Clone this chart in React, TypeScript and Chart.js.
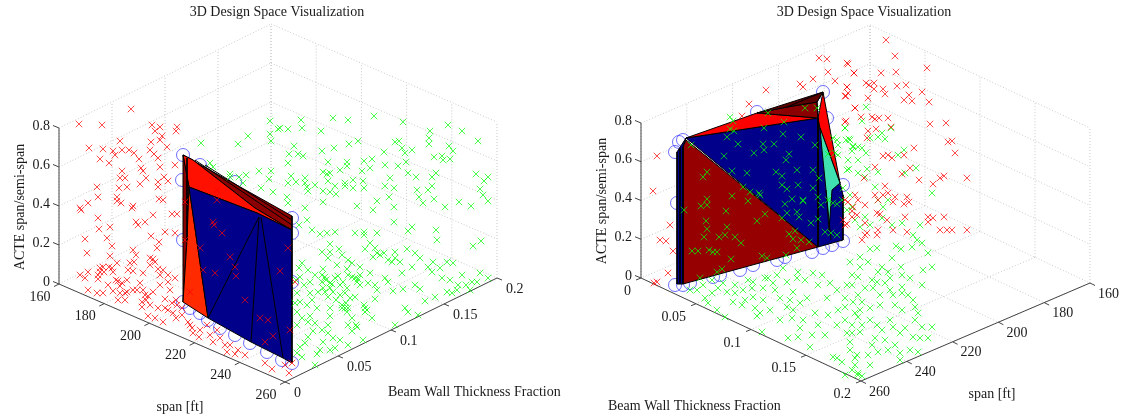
import React, { useEffect, useRef } from "react";
import { Chart, registerables } from "chart.js";

Chart.register(...registerables);

type Pair = [number, number];

const titleText = "3D Design Space Visualization";
const spanLabel = "span [ft]";
const thicknessLabel = "Beam Wall Thickness Fraction";
const acteLabel = "ACTE span/semi-span";
const spanTicks = [160, 180, 200, 220, 240, 260];
const thicknessTicks = [0, 0.05, 0.1, 0.15, 0.2];
const acteTicks = [0, 0.2, 0.4, 0.6, 0.8];

// Scatter samples in projected plot units.
const leftRed: Pair[] = [
[131,109],[79,124],[102,125],[152,125],[160,127],[177,127],[176,131],[155,131],[162,136],[120,141],[151,142],[160,140],[89,148],[103,149],[113,151],[115,155],[122,150],[129,150],[134,153],[150,150],[167,147],[154,154],[158,158],[100,159],[109,163],[139,159],[160,167],[175,165],[141,168],[143,171],[122,171],[120,178],[125,178],[146,178],[164,177],[168,181],[158,182],[140,184],[158,187],[97,187],[127,187],[119,188],[98,197],[117,197],[117,201],[121,203],[88,203],[159,199],[163,200],[133,206],[132,208],[80,208],[185,202],[217,200],[217,190],
[81,210],[98,218],[110,227],[99,229],[136,222],[145,222],[138,225],[153,215],[172,214],[177,214],[165,232],[175,233],[151,236],[85,239],[107,238],[112,246],[159,242],[157,248],[87,253],[133,250],[136,255],[110,256],[153,259],[117,263],[130,263],[103,267],[109,267],[150,265],[158,269],[100,272],[113,272],[133,271],[143,273],[163,270],[168,275],[80,275],[88,272],[85,278],[98,279],[127,280],[118,281],[175,278],[137,290],[113,291],[88,290],[97,293],[103,293],[120,293],[125,293],[153,292],[145,295],[118,300],[125,300],[142,302],[165,299],[172,303],[177,305],[142,307],[148,316],[155,318],[173,313],[163,322],[188,322],[190,325],[193,333],[199,337],[207,325],[217,330],[213,342],[230,345],[227,352],[235,354],[245,355],[265,363],[272,369],
[213,222],[214,225],[222,233],[200,248],[203,270],[215,273],[230,257],[235,267],[236,276],[245,300],[260,318],[268,320],[265,342],[273,336],[190,292],[185,240],[288,248],[280,271],[295,282],[290,330],[292,363],[289,373],[285,365],
[100,268],[104,272],[98,275],[112,268],[116,280],[122,283],[108,285],[120,286],[127,292],[146,300],[150,305],[158,308],[168,310],[176,318],[182,315],[192,328],[200,330],[210,335],[220,338],[225,345],[238,350],[143,290],[148,296],[160,285],[168,282],[170,290],[176,300],[182,308],[165,308],[140,283],[133,290],[155,262],[150,258],[160,275],[134,262],[128,270]
];
const leftGreen: Pair[] = [
[270,121],[270,134],[271,141],[278,129],[248,136],[238,144],[201,143],[210,163],[213,167],[230,174],[239,177],[246,175],[259,171],[271,171],[269,179],[243,183],[261,188],[273,192],[230,177],
[301,120],[302,128],[333,118],[348,120],[374,116],[403,122],[448,125],[462,131],[430,131],[321,131],[288,129],[280,128],[429,138],[478,141],[429,144],[294,146],[358,141],[349,144],[334,148],[322,151],[395,142],[399,141],[402,148],[412,150],[405,153],[384,152],[449,146],[453,151],[289,154],[298,154],[303,156],[434,157],[442,156],[443,160],[450,159],[328,162],[347,162],[347,166],[364,161],[372,159],[406,162],[288,163],[385,165],[398,166],[370,168],[362,171],[340,170],[323,172],[330,173],[327,174],[408,173],[291,176],[305,178],[390,178],[416,177],[432,177],[436,173],[476,174],[488,177],[484,181],[288,183],[296,182],[305,183],[307,187],[315,185],[328,181],[345,183],[353,180],[363,181],[335,186],[345,186],[353,188],[364,188],[385,186],[394,188],[432,186],[417,190],[428,190],[480,189],[308,191],[323,191],[330,192],[336,194],[483,195],[389,197],[419,197],[434,199],[287,197],[488,201],[377,201],[423,203],[323,202],[459,202],[288,203],[471,206],[445,207],[357,206],[394,207],[305,208],[373,210],
[307,220],[299,225],[312,230],[320,234],[327,233],[335,232],[355,233],[364,232],[364,235],[377,233],[394,222],[412,227],[408,231],[436,230],[437,240],[473,246],[481,241],[330,244],[370,243],[322,252],[330,252],[339,249],[365,249],[375,248],[377,253],[384,253],[395,252],[407,249],[415,253],[342,255],[348,260],[328,258],[373,257],[395,258],[392,262],[433,262],[447,262],[453,263],[302,263],[337,265],[352,263],[360,267],[428,267],[412,267],[308,270],[323,269],[347,269],[370,273],[402,273],[432,272],[462,275],[480,273],[325,277],[335,278],[355,278],[348,275],[385,278],[442,278],[472,282],[488,278],[322,282],[330,283],[340,285],[357,282],[375,285],[388,282],[415,285],[450,280],[458,285],[477,282],[323,288],[333,292],[347,288],[377,290],[393,291],[403,289],[420,289],[447,292],[457,290],[297,293],[310,293],[328,297],[355,297],[435,297],[452,293],[375,299],[425,301],[300,302],[295,303],[307,305],[330,308],[345,308],[365,308],[317,308],[405,308],[408,312],[418,315],[347,312],[297,312],[310,316],[330,316],[365,312],[342,308],[372,318],[315,323],[328,325],[357,327],[348,325],[395,325],[297,325],[352,331],[313,331],[363,340],[328,333],[308,337],[305,343],[323,342],[348,345],[300,347],[320,350],[330,350],[317,354],[335,348],[297,353],[302,357],[315,365],
[322,275],[326,280],[332,284],[338,276],[343,282],[352,277],[358,279],[360,285],[330,288],[345,293],[350,298],[336,300],[340,295],[325,292],[342,305],[346,303],[348,308],[364,305],[367,310],[312,300],[318,292],[304,285],[300,277],[310,282],[315,275],[299,268],[296,280],[302,318],[308,322],[322,330],[333,338],[340,340],[356,325],[352,318],[360,275],[368,283],[380,255],[388,260],[400,262],[420,258],[440,268],[466,285],[470,290]
];
const leftDesign: Pair[] = [
[183,155],[200,165],[235,182],[182,180],[183,302],[183,240],[208,320],[220,328],[235,335],[250,343],[267,352],[282,360],[200,313],[190,308],[292,218],[292,233],[292,282],[292,363]
];
const rightRed: Pair[] = [
[886,40],[895,56],[927,68],[847,63],[854,73],[881,73],[896,72],[866,83],[869,85],[874,83],[847,87],[874,89],[883,89],[897,86],[906,85],[885,94],[922,92],[909,95],[848,93],[845,96],[868,98],[904,100],[912,101],[929,102],[855,108],[861,117],[872,117],[875,119],[879,118],[888,118],[930,124],[946,123],[845,122],[868,131],[876,129],[891,127],[867,138],[948,142],[952,141],[955,153],[914,148],[883,156],[888,155],[892,158],[904,155],[875,167],[910,168],[902,174],[919,180],[940,178],[944,176],[967,178],[933,184],[864,178],[885,186],[875,195],[888,193],[883,195],[878,200],[895,197],[907,197],[893,202],[909,202],[904,204],[855,195],[845,200],[865,205],[853,207],[848,202],
[928,217],[933,218],[944,217],[928,222],[905,217],[940,230],[947,230],[952,230],[967,230],[893,230],[907,232],[877,213],[880,214],[865,223],[878,230],[867,233],[865,235],[862,240],[877,235],[852,217],[845,225],[887,220],
[819,58],[827,59],[848,64],[854,73],[828,72],[800,84],[813,79],[803,87],[835,81],[766,90],[847,87],[846,96],[749,104],[855,108],[742,116],[846,121],[657,156],[653,191],[858,200],
[670,225],[660,240],[666,241],[673,251],[668,273],[657,282],[654,283],[843,220],[847,224],[857,215],[852,211]
];
const rightGreen: Pair[] = [
[730,117],[733,121],[768,113],[784,122],[730,129],[734,131],[727,137],[764,128],[783,134],[801,137],[738,144],[763,144],[774,144],[764,150],[754,153],[724,156],[789,154],[786,160],[707,172],[703,177],[732,171],[747,173],[776,172],[782,176],[797,170],[813,170],[815,145],[828,154],[798,185],[782,185],[787,189],[743,187],[750,192],[759,193],[813,188],[819,178],[805,108],[817,108],[691,145],[833,138],[845,128],[846,140],[835,153],[838,145],
[707,199],[701,206],[707,205],[684,210],[732,196],[726,211],[748,201],[760,195],[706,221],[707,229],[727,227],[725,235],[719,237],[704,237],[735,237],[741,243],[692,251],[698,251],[709,250],[713,252],[717,252],[731,259],[762,256],[767,258],[722,269],[717,272],[765,214],[757,221],[782,218],[787,213],[785,204],[792,199],[803,201],[797,212],[799,217],[811,223],[818,219],[789,234],[795,231],[793,239],[801,240],[809,242],[797,248],[786,255],[825,232],[831,233],[837,235],[821,205],[818,197],[833,203],[837,204],[847,210],
[697,290],[705,298],[708,303],[718,288],[723,283],[727,292],[735,293],[733,302],[743,290],[752,288],[753,297],[763,288],[763,300],[760,313],[757,316],[742,305],[717,310],[725,317],[762,332],[777,275],[783,268],[798,272],[797,278],[813,273],[787,282],[818,285],[837,290],[847,285],[793,292],[780,298],[807,298],[827,298],[845,298],[787,307],[800,303],[815,313],[828,315],[855,313],[792,318],[803,320],[818,325],[837,325],[788,338],[798,337],[810,347],[833,357],[842,362],[857,355],[837,358],[858,373],[847,333],[852,325],[773,283],[793,310],[753,282],[703,285],[712,280],
[855,220],[865,217],[882,218],[870,225],[860,227],[892,225],[902,223],[920,225],[913,235],[917,240],[922,243],[896,246],[901,249],[912,247],[870,249],[860,257],[877,248],[928,253],[892,258],[901,267],[868,262],[860,267],[850,262],[923,270],[932,267],[882,267],[878,272],[888,272],[902,275],[910,278],[890,278],[885,283],[877,282],[865,288],[873,288],[902,287],[922,285],[858,277],[852,285],[893,295],[902,293],[853,302],[862,302],[880,305],[913,300],[915,307],[902,310],[918,313],[845,307],[870,308],[858,317],[877,325],[862,325],[890,320],[915,320],[893,327],[922,327],[932,327],[852,333],[875,338],[900,333],[913,337],[928,338],[920,338],[910,350],[918,352],[888,350],[900,353],[868,355],[855,358],[900,360],[852,370],[858,375],[870,365],[862,376],[850,342],[860,332],
[866,107],[862,121],[845,128],[891,128],[882,133],[878,137],[885,139],[870,138],[849,139],[853,146],[852,151],[862,148],[866,153],[904,150],[898,155],[867,169],[849,169],[878,172],[905,173],[916,168],[932,193],[875,187],[878,200],[888,200],[865,177],[883,207],[852,207],
[837,140],[850,140],[853,147],[858,147],[848,160],[858,160],[847,170],[838,155],[858,173],[843,188],[850,195],[842,200],[828,200],[803,200],
[700,278],[690,290],[712,293],[748,280],[768,278],[775,290],[790,300],[805,280],[822,275],[830,283],[852,275],[858,295],[872,280],[880,295],[890,290],[895,305],[908,295],[860,310],[870,320],[882,330],[845,320],[838,310],[825,335],[812,335],[800,328],[780,320],[770,310],[765,278],[745,300],[735,285],[755,308],[872,345],[885,340],[895,345],[905,328],[878,352],[850,350],[845,375],[855,365]
];
const rightDesign: Pair[] = [
[823,92],[757,112],[827,118],[819,118],[683,140],[679,142],[675,152],[843,185],[830,182],[808,105],[677,203],[675,285],[683,285],[690,283],[720,275],[713,277],[740,270],[753,265],[777,260],[812,252],[823,248],[832,245],[843,241],[785,257]
];

// Hull facets
const leftDarkFacet: Pair[] = [[183,155],[292,216],[292,230],[285,226],[255,208],[193,160]];
const leftRedFacet: Pair[] = [[183,155],[193,160],[255,208],[285,226],[292,230],[257,213],[189,187]];
const leftStripFacet: Pair[] = [[183,155],[189,187],[187,240],[183,302]];
const leftOrangeFacet: Pair[] = [[189,187],[208,318],[183,302],[187,240]];
const leftBlueFacet: Pair[] = [[189,187],[257,213],[292,230],[292,363],[283,358],[251,342],[208,318]];
const leftEdges: Pair[][] = [
  [[259,217],[208,318]],[[259,217],[251,342]],[[261,217],[283,358]],
  [[195,160],[292,225]],[[205,165],[292,220]],[[187,158],[187,240]],
];
const rightStripFacet: Pair[] = [[686,138],[677,152],[677,284],[683,284],[683,147]];
const rightLowerFacet: Pair[] = [[686,140],[818,247],[683,284],[683,147]];
const rightBlueFacet: Pair[] = [[686,138],[818,118],[818,247]];
const rightSideFacet: Pair[] = [[818,118],[820,128],[840,183],[843,195],[843,240],[818,247]];
const rightTopRedFacet: Pair[] = [[686,138],[757,113],[818,118]];
const rightTopFacet: Pair[] = [[757,113],[787,107],[817,102],[818,118]];
const rightCapFacet: Pair[] = [[757,113],[823,92],[817,102],[787,107]];
const rightWedgeFacet: Pair[] = [[823,92],[840,183],[820,128],[818,118]];
const rightCyanFacet: Pair[] = [[820,128],[840,183],[832,190],[829,230],[826,190],[822,150]];
const rightEdges: Pair[][] = [
  [[818,118],[818,247]],[[826,190],[831,240]],[[823,92],[817,102]],[[817,102],[818,118]],
  [[680,148],[680,284]],[[683,147],[683,284]],[[787,107],[823,92]],
];

interface Panel { a: Pair; u: Pair; v: Pair; h: number; spanAlongU: boolean }
const panelLeft: Panel = { a: [59, 284], u: [226, 98], v: [212, -104], h: 156, spanAlongU: true };
const panelRight: Panel = { a: [641, 278], u: [220, 103], v: [229, -98], h: 155, spanAlongU: false };

const project = (p: Panel, span: number, th: number, acte: number) => {
  const sf = (span - 160) / 100;
  const tf = th / 0.2;
  const uf = p.spanAlongU ? sf : tf;
  const vf = p.spanAlongU ? tf : 1 - sf;
  return {
    x: p.a[0] + uf * p.u[0] + vf * p.v[0],
    y: p.a[1] + uf * p.u[1] + vf * p.v[1] - (acte / 0.8) * p.h,
  };
};
const GAP = { x: NaN, y: NaN };
const sMin = spanTicks[0], sMax = spanTicks[spanTicks.length - 1];
const tMin = thicknessTicks[0], tMax = thicknessTicks[thicknessTicks.length - 1];
const zMin = acteTicks[0], zMax = acteTicks[acteTicks.length - 1];

function gridPath(p: Panel) {
  const out: { x: number; y: number }[] = [];
  const seg = (a: any, b: any) => out.push(a, b, GAP);
  const wallT = p.spanAlongU ? tMax : tMin;
  const wallA = p.spanAlongU ? [sMin, tMin] : [sMax, tMin];
  const wallB = p.spanAlongU ? [sMin, tMax] : [sMin, tMin];
  const wallC = p.spanAlongU ? [sMax, tMax] : [sMin, tMax];
  for (const s of spanTicks) {
    seg(project(p, s, tMin, 0), project(p, s, tMax, 0));
    seg(project(p, s, wallT, 0), project(p, s, wallT, zMax));
  }
  for (const t of thicknessTicks) {
    seg(project(p, sMin, t, 0), project(p, sMax, t, 0));
    seg(project(p, sMin, t, 0), project(p, sMin, t, zMax));
  }
  for (const z of acteTicks) {
    if (z === 0) continue;
    seg(project(p, wallA[0], wallA[1], z), project(p, wallB[0], wallB[1], z));
    seg(project(p, wallB[0], wallB[1], z), project(p, wallC[0], wallC[1], z));
  }
  return out;
}
function axesPath(p: Panel) {
  const out: { x: number; y: number }[] = [];
  const seg = (a: any, b: any) => out.push(a, b, GAP);
  const off = (q: any, dx: number, dy: number) => ({ x: q.x + dx, y: q.y + dy });
  if (p.spanAlongU) {
    seg(project(p, sMin, tMin, zMin), project(p, sMin, tMin, zMax));
    seg(project(p, sMin, tMin, 0), project(p, sMax, tMin, 0));
    seg(project(p, sMax, tMin, 0), project(p, sMax, tMax, 0));
    for (const z of acteTicks) { const q = project(p, sMin, tMin, z); seg(q, off(q, -6, -2.5)); }
    for (const s of spanTicks) { const q = project(p, s, tMin, 0); seg(q, off(q, -5, 2.5)); }
    for (const t of thicknessTicks) { const q = project(p, sMax, t, 0); seg(q, off(q, 5, 2)); }
  } else {
    seg(project(p, sMax, tMin, zMin), project(p, sMax, tMin, zMax));
    seg(project(p, sMax, tMin, 0), project(p, sMax, tMax, 0));
    seg(project(p, sMax, tMax, 0), project(p, sMin, tMax, 0));
    for (const z of acteTicks) { const q = project(p, sMax, tMin, z); seg(q, off(q, -6, -2.5)); }
    for (const t of thicknessTicks) { const q = project(p, sMax, t, 0); seg(q, off(q, -5, 2)); }
    for (const s of spanTicks) { const q = project(p, s, tMax, 0); seg(q, off(q, 5, 2.5)); }
  }
  return out;
}

const toPts = (a: Pair[]) => a.map(([x, y]) => ({ x, y }));
const closed = (a: Pair[]) => toPts([...a, a[0]]);
const edgesPts = (e: Pair[][]) => e.flatMap((s) => [...toPts(s), GAP]);

const App = () => {
  const ref = useRef<HTMLCanvasElement>(null);
  useEffect(() => {
    document.body.style.margin = "0";
    const facet = (data: Pair[], color: string, order: number) => ({
      data: closed(data), showLine: true, fill: "shape" as const, backgroundColor: color,
      borderColor: "#000000", borderWidth: 1, pointRadius: 0, order,
    });
    const path = (data: any[], color: string, width: number, order: number, dash: number[] = []) => ({
      data, showLine: true, fill: false, borderColor: color, borderWidth: width, borderDash: dash,
      pointRadius: 0, spanGaps: false, order,
    });
    const marks = (data: Pair[], color: string, order: number) => ({
      data: toPts(data), showLine: false, pointStyle: "crossRot" as const, pointRadius: 4.6,
      pointBorderColor: color, pointBorderWidth: 0.7, pointBackgroundColor: color, order,
    });
    const rings = (data: Pair[], order: number) => ({
      data: toPts(data), showLine: false, pointStyle: "circle" as const, pointRadius: 6.5,
      pointBorderColor: "rgba(40,40,255,0.85)", pointBorderWidth: 0.8, pointBackgroundColor: "rgba(0,0,0,0)", order,
    });

    const labels = {
      id: "labels",
      afterDraw(c: any) {
        const g = c.ctx as CanvasRenderingContext2D;
        g.save();
        g.fillStyle = "#1a1a1a";
        g.font = "14px 'Liberation Serif'";
        g.textBaseline = "middle";
        const t = (s: string, x: number, y: number, al: CanvasTextAlign) => {
          g.textAlign = al; g.fillText(s, x, y);
        };
        t(titleText, 277, 12, "center");
        t(titleText, 864, 12, "center");
        for (const z of acteTicks) {
          const a = project(panelLeft, sMin, tMin, z);
          t(String(z), a.x - 9, a.y - 2, "right");
          const b = project(panelRight, sMax, tMin, z);
          t(String(z), b.x - 9, b.y - 2, "right");
        }
        for (const s of spanTicks) {
          const a = project(panelLeft, s, tMin, 0);
          t(String(s), a.x - 19, a.y + 13, "center");
          const b = project(panelRight, s, tMax, 0);
          t(String(s), b.x + 8, b.y + 11, "left");
        }
        for (const th of thicknessTicks) {
          const a = project(panelLeft, sMax, th, 0);
          t(String(th), a.x + 9, a.y + 11, "left");
          const b = project(panelRight, sMax, th, 0);
          t(String(th), b.x - 10, b.y + 13.5, "right");
        }
        t(spanLabel, 180, 407, "center");
        t(thicknessLabel, 388, 392, "left");
        t(spanLabel, 992, 394, "center");
        t(thicknessLabel, 608, 406, "left");
        for (const [x, y] of [[20, 207], [602, 201]]) {
          g.save(); g.translate(x, y); g.rotate(-Math.PI / 2);
          t(acteLabel, 0, 0, "center");
          g.restore();
        }
        g.restore();
      },
    };

    const chart = new Chart(ref.current!, {
      type: "scatter",
      data: {
        datasets: [
          path(gridPath(panelLeft), "#c9c9c9", 1, 100, [1, 2]),
          path(gridPath(panelRight), "#c9c9c9", 1, 100, [1, 2]),
          path(axesPath(panelLeft), "#444444", 1, 90),
          path(axesPath(panelRight), "#444444", 1, 90),
          rings(leftDesign, 80),
          rings(rightDesign, 80),
          facet(leftDarkFacet, "#8b0000", 70),
          facet(leftRedFacet, "#ff1000", 69),
          facet(leftStripFacet, "#8b0000", 68),
          facet(leftOrangeFacet, "#ff2a00", 67),
          facet(leftBlueFacet, "#00008b", 66),
          path(edgesPts(leftEdges), "#000000", 1, 65),
          facet(rightStripFacet, "#00008b", 70),
          facet(rightSideFacet, "#00008b", 69),
          facet(rightLowerFacet, "#960000", 68),
          facet(rightBlueFacet, "#00008b", 67),
          facet(rightTopRedFacet, "#ff0000", 66),
          facet(rightTopFacet, "#8b0000", 65),
          facet(rightCapFacet, "#5a0000", 64),
          facet(rightWedgeFacet, "#ff0000", 63),
          facet(rightCyanFacet, "#40e0b0", 62),
          path(edgesPts(rightEdges), "#000000", 1, 61),
          marks(leftGreen, "#00ff00", 30),
          marks(rightGreen, "#00ff00", 30),
          marks(leftRed, "#ff0000", 20),
          marks(rightRed, "#ff0000", 20),
        ] as any,
      },
      options: {
        animation: false,
        responsive: false,
        maintainAspectRatio: false,
        layout: { padding: 0, autoPadding: false },
        plugins: { legend: { display: false }, title: { display: false }, tooltip: { enabled: false } },
        scales: {
          x: { type: "linear", display: false, min: 0, max: 1125 },
          y: { type: "linear", display: false, min: 0, max: 419, reverse: true },
        },
      },
      plugins: [labels],
    });
    return () => chart.destroy();
  }, []);
  return <canvas ref={ref} width={1125} height={419} style={{ display: "block" }} />;
};

export default App;
